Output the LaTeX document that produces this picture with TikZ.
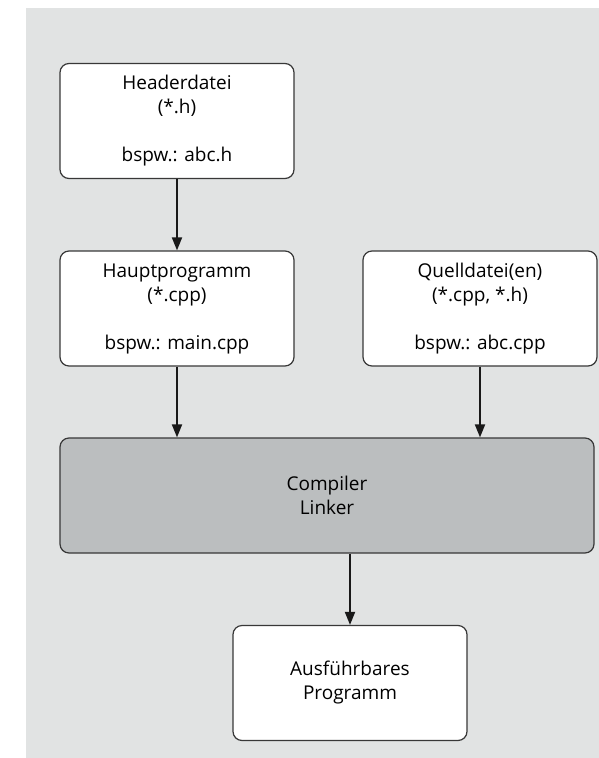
\documentclass[tikz,border=0pt]{standalone}
\usepackage{fontspec}
\setmainfont{Open Sans}
\usepackage{tikz}
\usetikzlibrary{arrows.meta,positioning}
\definecolor{hgrau}{HTML}{E1E3E3}
\definecolor{kgrau}{HTML}{BBBEBF}
\definecolor{rand}{HTML}{383838}
\tikzstyle{datei} = [draw=rand, line width=1.2pt, fill=white, rounded corners=9pt, align=center, minimum width=234pt, minimum height=115pt, inner sep=0pt, font=\fontsize{19}{24}\selectfont]
\tikzstyle{werkzeug} = [datei, fill=kgrau, minimum width=534pt]
\tikzstyle{pfeil} = [line width=1.8pt, draw=black!90, -{Triangle[width=10pt,length=13pt]}]

\begin{document}
\begin{tikzpicture}[x=1pt,y=-1pt]
\useasboundingbox (0,0) rectangle (599,758);
\fill[hgrau] (26,8) rectangle (599,758);

\node[datei] (header) at (177,121) {Headerdatei\\(*.h)\\[24pt]bspw.: abc.h};
\node[datei] (haupt) at (177,308.5) {Hauptprogramm\\(*.cpp)\\[24pt]bspw.: main.cpp};
\node[datei] (quelle) at (480,308.5) {Quelldatei(en)\\(*.cpp, *.h)\\[24pt]bspw.: abc.cpp};
\node[werkzeug] (compiler) at (327,495.5) {Compiler\\Linker};
\node[datei] (programm) at (350,683) {Ausführbares\\Programm};

    \draw[pfeil] (header) -- (haupt);
    \draw[pfeil] (haupt.south) -- (haupt.south |- compiler.north);
    \draw[pfeil] (quelle.south) -- (quelle.south |- compiler.north);
    \draw[pfeil] (programm.north |- compiler.south) -- (programm.north);
\end{tikzpicture}
\end{document}
